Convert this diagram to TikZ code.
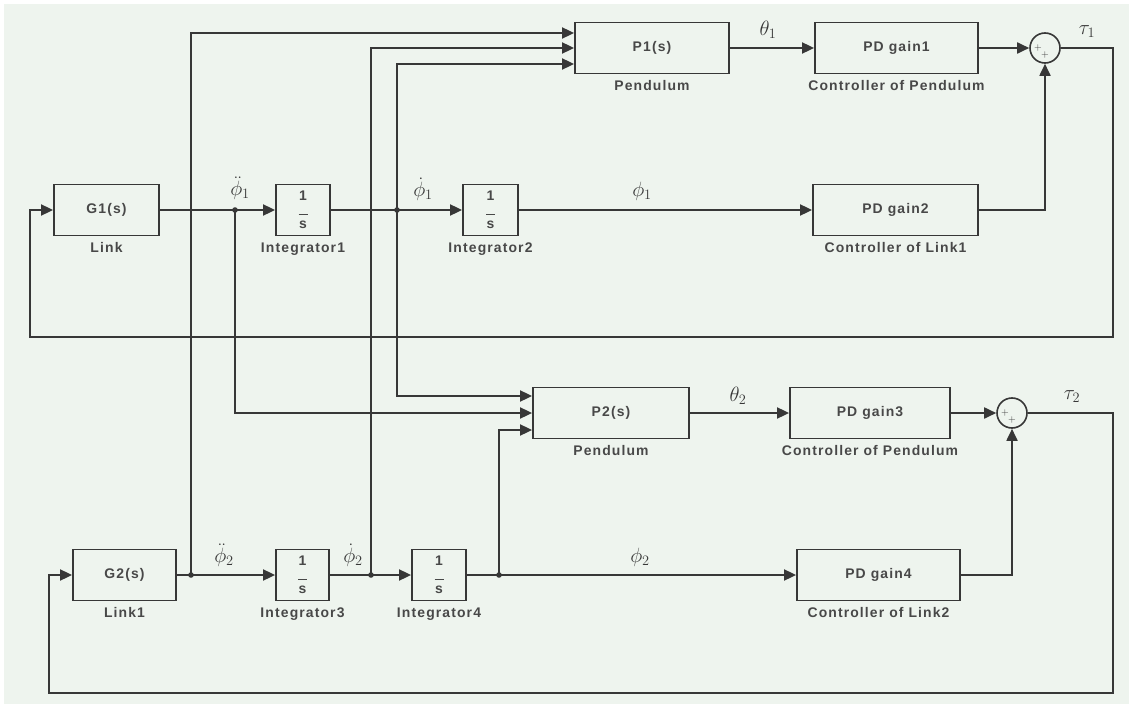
\documentclass[tikz,border=0pt]{standalone}
\usepackage{amsmath}
\usepackage{fontspec}
\usepackage{xcolor}
\usetikzlibrary{arrows.meta, positioning, calc}
\newfontfamily\blkfont[LetterSpace=8]{Liberation Sans}
\definecolor{linec}{RGB}{55, 55, 55}
\definecolor{bgc}{RGB}{238, 244, 238}
\definecolor{txtc}{RGB}{72, 72, 72}
\newcommand{\intg}{1\\[-2bp]\rule{9bp}{1.2bp}\\[-2bp]s}

\begin{document}
\begin{tikzpicture}[x=1bp, y=-1bp,
    label distance=5bp,
    blk/.style={draw=linec, line width=1.8bp, minimum height=51bp,
                inner sep=0pt, align=center, text=txtc,
                font=\blkfont\bfseries\fontsize{14}{16}\selectfont},
    captxt/.style={font=\blkfont\bfseries\fontsize{14}{16}\selectfont,
                text=txtc, inner sep=1bp},
    sumc/.style={circle, draw=linec, line width=1.6bp, minimum size=30bp,
                 inner sep=0pt},
    arr/.style={-{Triangle[length=12bp, width=11bp]}, line width=1.8bp, linec},
    sig/.style={font=\fontsize{22}{24}\selectfont, text=linec, inner sep=0pt},
    pm/.style={font=\fontsize{10}{10}\selectfont, inner sep=0pt, text=linec},
  ]
    \fill[white] (0,0) rectangle (1133,708);
    \fill[bgc] (4,4) rectangle (1129,704);
    \useasboundingbox (0,0) rectangle (1133,708);

    % link 1 and pendulum 1
    \node[blk, minimum width=105bp, label={[captxt]below:Link}] (G1) at (106.5,210) {G1(s)};
    \node[blk, minimum width=54bp, label={[captxt]below:Integrator1}] (I1) at (303,210) {\intg};
    \node[blk, minimum width=55bp, label={[captxt]below:Integrator2}] (I2) at (490.5,210) {\intg};
    \node[blk, minimum width=165bp, label={[captxt]below:Controller of Link1}] (PD2) at (895.5,210) {PD gain2};
    \node[blk, minimum width=154bp, label={[captxt]below:Pendulum}] (P1) at (652,48) {P1(s)};
    \node[blk, minimum width=163bp, label={[captxt]below:Controller of Pendulum}] (PD1) at (896.5,48) {PD gain1};
    \node[sumc] (S1) at (1045,48) {};
    \node[pm] (S1a) at ([xshift=-7bp]S1.center) {+};
    \node[pm] (S1b) at ([yshift=-7bp]S1.center) {+};

    % link 2 and pendulum 2
    \node[blk, minimum width=156bp, label={[captxt]below:Pendulum}] (P2) at (611,413) {P2(s)};
    \node[blk, minimum width=160bp, label={[captxt]below:Controller of Pendulum}] (PD3) at (870,413) {PD gain3};
    \node[sumc] (S2) at (1012,413) {};
    \node[pm] (S2a) at ([xshift=-7bp]S2.center) {+};
    \node[pm] (S2b) at ([yshift=-7bp]S2.center) {+};
    \node[blk, minimum width=103bp, label={[captxt]below:Link1}] (G2) at (124.5,575) {G2(s)};
    \node[blk, minimum width=53bp, label={[captxt]below:Integrator3}] (I3) at (302.5,575) {\intg};
    \node[blk, minimum width=54bp, label={[captxt]below:Integrator4}] (I4) at (439,575) {\intg};
    \node[blk, minimum width=163bp, label={[captxt]below:Controller of Link2}] (PD4) at (878.5,575) {PD gain4};

    % branch points and loop corners
    \coordinate (d1) at (235,210);
    \coordinate (d2) at (397,210);
    \coordinate (d3) at (191,575);
    \coordinate (d4) at (371,575);
    \coordinate (d5) at (499,575);
    \coordinate (r1) at (1113,337);
    \coordinate (l1) at (30,337);
    \coordinate (r2) at (1113,693);
    \coordinate (l2) at (49,693);

    \draw[arr] (G1) -- (I1);
    \draw[arr] (I1) -- (I2);
    \draw[arr] (I2) -- (PD2);
    \draw[arr] (PD2) -| (S1);
    \draw[arr] (P1) -- (PD1);
    \draw[arr] (PD1) -- (S1);
    \draw[arr] (S1) -| (r1) -- (l1) |- (G1);

    \draw[arr] (G2) -- (I3);
    \draw[arr] (I3) -- (I4);
    \draw[arr] (I4) -- (PD4);
    \draw[arr] (PD4) -| (S2);
    \draw[arr] (P2) -- (PD3);
    \draw[arr] (PD3) -- (S2);
    \draw[arr] (S2) -| (r2) -- (l2) |- (G2);

    % feeds into the pendulum blocks
    \draw[arr] (d3) |- ([yshift=15bp]P1.west);
    \draw[arr] (d4) |- (P1.west);
    \draw[arr] (d2) |- ([yshift=-16bp]P1.west);
    \draw[arr] (d2) |- ([yshift=17bp]P2.west);
    \draw[arr] (d1) |- (P2.west);
    \draw[arr] (d5) |- ([yshift=-17bp]P2.west);
    \foreach \d in {d1,d2,d3,d4,d5}
      \fill[linec] (\d) circle (2.8bp);

    % signal names
    \node[sig] (phdd1) at (240,188) {$\ddot{\phi}_1$};
    \node[sig] (phd1) at (423,189) {$\dot{\phi}_1$};
    \node[sig] (ph1) at (642,191) {$\phi_1$};
    \node[sig] (th1) at (768,30) {$\theta_1$};
    \node[sig] (ta1) at (1087,32) {$\tau_1$};
    \node[sig] (th2) at (738,396) {$\theta_2$};
    \node[sig] (ta2) at (1072,397) {$\tau_2$};
    \node[sig] (phdd2) at (224,555) {$\ddot{\phi}_2$};
    \node[sig] (phd2) at (353,555) {$\dot{\phi}_2$};
    \node[sig] (ph2) at (640,557) {$\phi_2$};
\end{tikzpicture}
\end{document}
